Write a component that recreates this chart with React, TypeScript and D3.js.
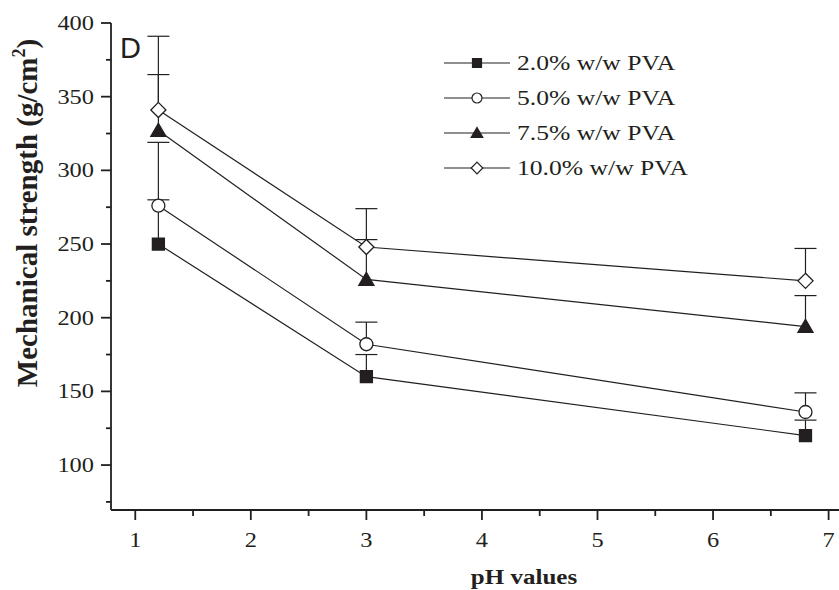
import React, { useRef, useEffect } from 'react';
import * as d3 from 'd3';

const phValues = [1.2, 3, 6.8];
const seriesNames = ['2.0% w/w PVA', '5.0% w/w PVA', '7.5% w/w PVA', '10.0% w/w PVA'];
const pva20 = [250, 160, 120];
const pva50 = [276, 182, 136];
const pva75 = [327, 226, 194];
const pva100 = [341, 248, 225];
const err20 = [30, 15, 10.5];
const err50 = [43, 15, 13];
const err75 = [38, 27, 21];
const err100 = [50, 26, 22];
const xTicks = [1, 2, 3, 4, 5, 6, 7];
const yTicks = [100, 150, 200, 250, 300, 350, 400];

const width = 839;
const height = 590;

const App = () => {
  const svgRef = useRef<SVGSVGElement>(null);

  useEffect(() => {
    if (!svgRef.current) return;
    const svg = d3.select(svgRef.current);
    svg.selectAll('*').remove();

    const ink = '#231f20';
    const serif = '"Liberation Serif", "Times New Roman", serif';
    const stretch = 1.22; // the original figure is a bit wider than tall

    const x = d3.scaleLinear().domain([0.79, 7.09]).range([111, 839]);
    const y = d3.scaleLinear().domain([69.5, 400]).range([510, 23]);

    const series = [
      { name: seriesNames[0], values: pva20, errs: err20, shape: 'square', fill: ink },
      { name: seriesNames[1], values: pva50, errs: err50, shape: 'circle', fill: '#fff' },
      { name: seriesNames[2], values: pva75, errs: err75, shape: 'triangle', fill: ink },
      { name: seriesNames[3], values: pva100, errs: err100, shape: 'diamond', fill: '#fff' },
    ];

    const symbolPath = (shape: string, s: number) => {
      if (shape === 'square') return `M${-s / 2},${-s / 2}h${s}v${s}h${-s}Z`;
      if (shape === 'triangle') return `M0,${-s * 0.55}L${s * 0.58},${s * 0.45}L${-s * 0.58},${s * 0.45}Z`;
      if (shape === 'diamond') return `M0,${-s * 0.58}L${s * 0.58},0L0,${s * 0.58}L${-s * 0.58},0Z`;
      const r = s / 2;
      return `M${r},0A${r},${r} 0 1,1 ${-r},0A${r},${r} 0 1,1 ${r},0Z`;
    };

    // Axes
    const axisG = svg.append('g').attr('stroke', ink).attr('stroke-width', 1.8);
    axisG.append('line').attr('x1', 111).attr('x2', 111).attr('y1', y(400)).attr('y2', 510);
    axisG.append('line').attr('x1', 111).attr('x2', 839).attr('y1', 510).attr('y2', 510);

    // x ticks (major + minor)
    d3.range(1, 7.01, 0.5).forEach(v => {
      const major = Number.isInteger(v);
      axisG.append('line')
        .attr('x1', x(v)).attr('x2', x(v))
        .attr('y1', 510).attr('y2', 510 + (major ? 10 : 6));
    });
    // y ticks (major + minor)
    d3.range(75, 400.1, 25).forEach(v => {
      const major = v % 50 === 0;
      axisG.append('line')
        .attr('x1', 111).attr('x2', 111 - (major ? 10 : 5))
        .attr('y1', y(v)).attr('y2', y(v));
    });

    svg.append('g').selectAll('text')
      .data(xTicks)
      .enter()
      .append('text')
      .attr('transform', d => `translate(${x(d)},547) scale(${stretch},1)`)
      .attr('text-anchor', 'middle')
      .attr('font-family', serif)
      .attr('font-size', 20)
      .attr('fill', ink)
      .text(d => d);

    svg.append('g').selectAll('text')
      .data(yTicks)
      .enter()
      .append('text')
      .attr('transform', d => `translate(94,${y(d) + 7}) scale(${stretch},1)`)
      .attr('text-anchor', 'end')
      .attr('font-family', serif)
      .attr('font-size', 20)
      .attr('fill', ink)
      .text(d => d);

    // Axis titles
    svg.append('text')
      .attr('transform', `translate(524,584) scale(${stretch},1)`)
      .attr('text-anchor', 'middle')
      .attr('font-family', serif)
      .attr('font-weight', 'bold')
      .attr('font-size', 20.5)
      .attr('fill', ink)
      .text('pH values');

    const yTitle = svg.append('text')
      .attr('transform', 'translate(37,213) rotate(-90)')
      .attr('text-anchor', 'middle')
      .attr('font-family', serif)
      .attr('font-weight', 'bold')
      .attr('font-size', 29)
      .attr('fill', ink);
    yTitle.append('tspan').text('Mechanical strength (g/cm');
    yTitle.append('tspan').attr('font-size', 18).attr('dy', -12).text('2');
    yTitle.append('tspan').attr('dy', 12).text(')');

    // Panel letter
    svg.append('text')
      .attr('x', 120)
      .attr('y', 58)
      .attr('font-family', '"Liberation Sans", Arial, sans-serif')
      .attr('font-size', 29)
      .attr('fill', ink)
      .text('D');

    const line = d3.line<number>()
      .x((_, i) => x(phValues[i]))
      .y(d => y(d));

    // Connecting lines
    series.forEach(s => {
      svg.append('path')
        .attr('d', line(s.values))
        .attr('fill', 'none')
        .attr('stroke', ink)
        .attr('stroke-width', 1.2);
    });

    // Error bars (upper only)
    series.forEach(s => {
      s.values.forEach((v, i) => {
        const cx = x(phValues[i]);
        const top = y(v + s.errs[i]);
        svg.append('line')
          .attr('x1', cx).attr('x2', cx)
          .attr('y1', y(v)).attr('y2', top)
          .attr('stroke', ink).attr('stroke-width', 1.2);
        svg.append('line')
          .attr('x1', cx - 11).attr('x2', cx + 11)
          .attr('y1', top).attr('y2', top)
          .attr('stroke', ink).attr('stroke-width', 1.2);
      });
    });

    // Markers
    series.forEach(s => {
      s.values.forEach((v, i) => {
        svg.append('path')
          .attr('d', symbolPath(s.shape, s.shape === 'square' ? 12 : 13))
          .attr('transform', `translate(${x(phValues[i])},${y(v)})`)
          .attr('fill', s.fill)
          .attr('stroke', ink)
          .attr('stroke-width', 1.3);
      });
    });

    // Legend
    const legend = svg.append('g');
    series.forEach((s, i) => {
      const ly = 63 + i * 35;
      legend.append('line')
        .attr('x1', 444).attr('x2', 510)
        .attr('y1', ly).attr('y2', ly)
        .attr('stroke', ink).attr('stroke-width', 1.2);
      legend.append('path')
        .attr('d', symbolPath(s.shape, s.shape === 'square' ? 9 : 10))
        .attr('transform', `translate(477,${ly})`)
        .attr('fill', s.fill)
        .attr('stroke', ink)
        .attr('stroke-width', 1.2);
      legend.append('text')
        .attr('transform', `translate(517,${ly + 7}) scale(${stretch},1)`)
        .attr('font-family', serif)
        .attr('font-size', 21)
        .attr('fill', ink)
        .text(s.name);
    });
  }, []);

  return (
    <svg
      ref={svgRef}
      width={width}
      height={height}
      style={{ position: 'absolute', left: 0, top: 0, background: '#fff' }}
    />
  );
};

export default App;
